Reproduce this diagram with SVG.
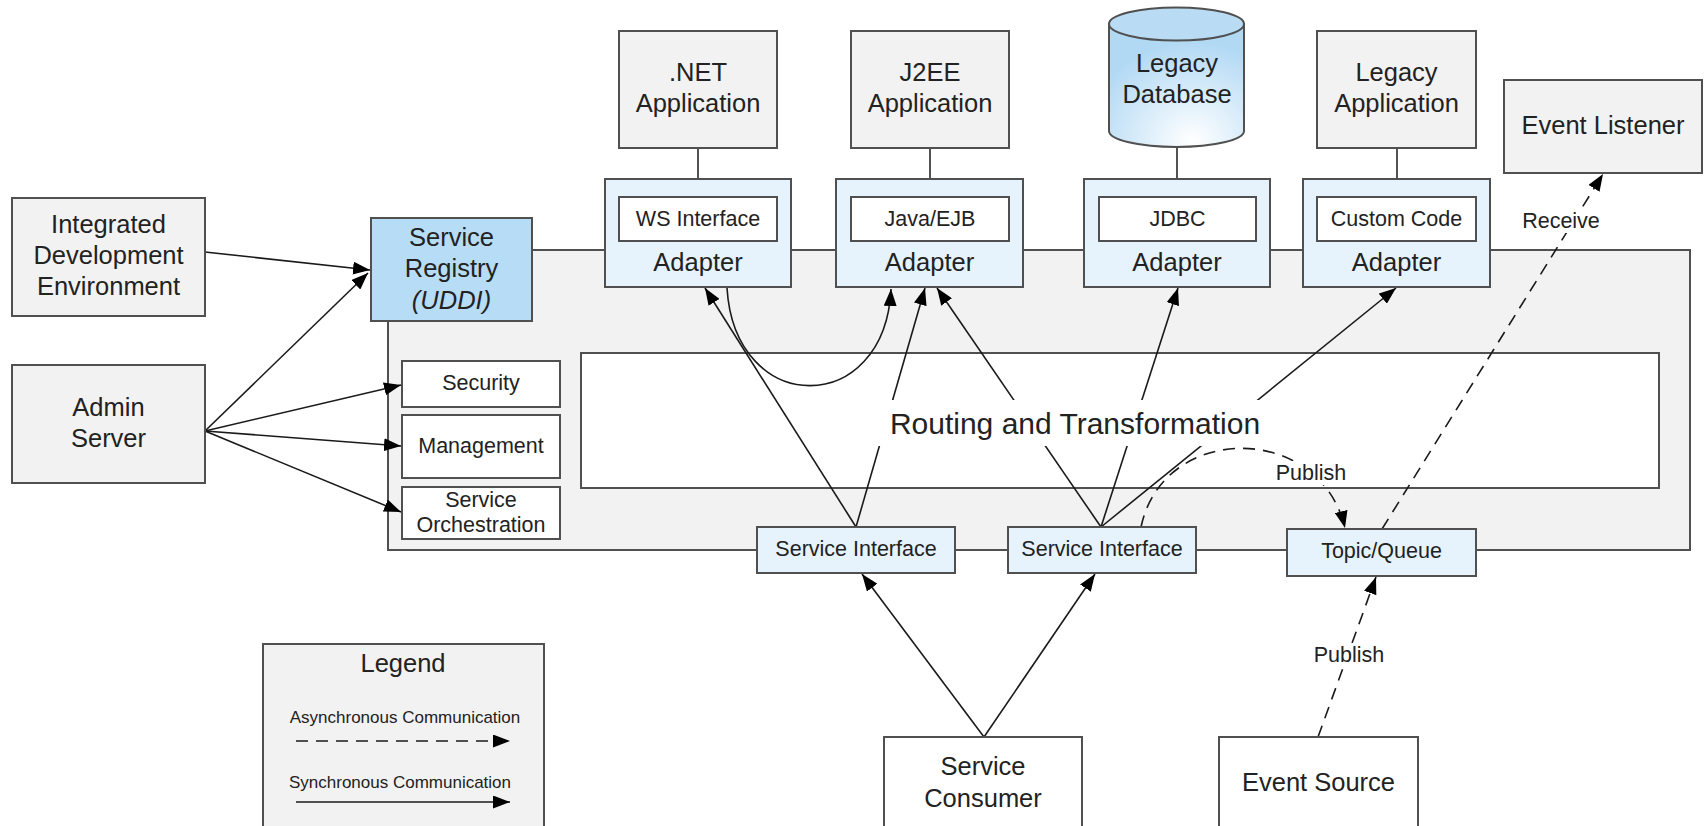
<svg xmlns="http://www.w3.org/2000/svg" width="1705" height="826" viewBox="0 0 1705 826">
<defs>
<style>
text { font-family: "Liberation Sans", Arial, Helvetica, sans-serif; fill: #222; text-anchor: middle; }
.big { font-size: 25.5px; }
.sm { font-size: 21.5px; }
.lg { font-size: 17px; }
.grey { fill: #f2f2f2; stroke: #505050; stroke-width: 2; }
.white { fill: #fff; stroke: #505050; stroke-width: 2; }
.pale { fill: #e6f3fc; stroke: #505050; stroke-width: 2; }
.reg { fill: #b7ddf6; stroke: #505050; stroke-width: 2; }
.tie { fill: none; stroke: #404040; stroke-width: 1.8; }
.link { fill: none; stroke: #1a1a1a; stroke-width: 1.6; marker-end: url(#ah); }
.dash { stroke-dasharray: 12 8; }
.bg { fill: #fff; }
</style>
<marker id="ah" markerUnits="userSpaceOnUse" markerWidth="18" markerHeight="13" refX="17" refY="6.5" orient="auto"><path d="M0,0 L17,6.5 L0,13 Z" fill="#000"/></marker>
<radialGradient id="cyl" cx="0.62" cy="0.95" r="0.8"><stop offset="0" stop-color="#ffffff"/><stop offset="1" stop-color="#b2d9f4"/></radialGradient>
</defs>
<rect x="0" y="0" width="1705" height="826" fill="#fff"/>

<g id="bus">
<rect class="grey" x="388" y="250" width="1302" height="300"/>
</g>
<g id="routing">
<rect class="white" x="581" y="353" width="1078" height="135"/>
</g>
<g id="security"><rect class="white" x="402" y="361" width="158" height="46"/><text class="sm" x="481" y="390">Security</text></g>
<g id="management"><rect class="white" x="402" y="415" width="158" height="63"/><text class="sm" x="481" y="453">Management</text></g>
<g id="orchestration"><rect class="white" x="402" y="487" width="158" height="52"/><text class="sm" x="481" y="507">Service</text><text class="sm" x="481" y="532">Orchestration</text></g>

<g id="ties">
<line class="tie" x1="698" y1="148" x2="698" y2="197"/>
<line class="tie" x1="930" y1="148" x2="930" y2="197"/>
<line class="tie" x1="1177" y1="146" x2="1177" y2="197"/>
<line class="tie" x1="1397" y1="148" x2="1397" y2="197"/>
</g>

<g id="connectors">
<line class="link" x1="205" y1="252" x2="370" y2="270"/>
<line class="link" x1="205" y1="431" x2="368" y2="273"/>
<line class="link" x1="205" y1="431" x2="401" y2="385"/>
<line class="link" x1="205" y1="431" x2="401" y2="446"/>
<line class="link" x1="205" y1="431" x2="401" y2="512"/>
<line class="link" x1="856" y1="527" x2="705" y2="288"/>
<line class="link" x1="856" y1="527" x2="925" y2="288"/>
<path class="link" d="M727,288 C735,418 885,418 891,289"/>
<line class="link" x1="1101" y1="527" x2="937" y2="288"/>
<line class="link" x1="1101" y1="527" x2="1178" y2="288"/>
<line class="link" x1="1101" y1="527" x2="1396" y2="288"/>
<line class="link" x1="984" y1="737" x2="862" y2="574"/>
<line class="link" x1="984" y1="737" x2="1095" y2="574"/>
<path class="link dash" d="M1141,527 C1163,422 1320,422 1345,528"/>
<line class="link dash" x1="1382" y1="529" x2="1603" y2="174"/>
<line class="link dash" x1="1318" y1="737" x2="1376" y2="577"/>
<rect class="bg" x="1274" y="461" width="74" height="24"/>
<text class="sm" x="1311" y="480">Publish</text>
<rect class="bg" x="1521" y="209" width="80" height="24"/>
<text class="sm" x="1561" y="228">Receive</text>
<rect class="bg" x="1311" y="643" width="76" height="24"/>
<text class="sm" x="1349" y="662">Publish</text>
</g>

<g id="routing-label">
<rect class="bg" x="876" y="400" width="392" height="46"/>
<text x="1075" y="434" style="font-size:30px">Routing and Transformation</text>
</g>

<g id="ide"><rect class="grey" x="12" y="198" width="193" height="118"/><text class="big" x="108.5" y="233">Integrated</text><text class="big" x="108.5" y="264">Development</text><text class="big" x="108.5" y="295">Environment</text></g>
<g id="admin"><rect class="grey" x="12" y="365" width="193" height="118"/><text class="big" x="108.5" y="416">Admin</text><text class="big" x="108.5" y="447">Server</text></g>
<g id="registry"><rect class="reg" x="371" y="218" width="161" height="103"/><text class="big" x="451.5" y="246">Service</text><text class="big" x="451.5" y="277">Registry</text><text class="big" x="451.5" y="309" font-style="italic">(UDDI)</text></g>

<g id="net-app"><rect class="grey" x="619" y="31" width="158" height="117"/><text class="big" x="698" y="81">.NET</text><text class="big" x="698" y="112">Application</text></g>
<g id="j2ee-app"><rect class="grey" x="851" y="31" width="158" height="117"/><text class="big" x="930" y="81">J2EE</text><text class="big" x="930" y="112">Application</text></g>
<g id="legacy-db"><path d="M1109,24 L1109,131 A67.5,16 0 0 0 1244,131 L1244,24 Z" fill="url(#cyl)" stroke="#505050" stroke-width="2"/><ellipse cx="1176.5" cy="24" rx="67.5" ry="16.5" fill="#b9dcf4" stroke="#505050" stroke-width="2"/><text class="big" x="1177" y="72">Legacy</text><text class="big" x="1177" y="103">Database</text></g>
<g id="legacy-app"><rect class="grey" x="1317" y="31" width="159" height="117"/><text class="big" x="1396.5" y="81">Legacy</text><text class="big" x="1396.5" y="112">Application</text></g>
<g id="event-listener"><rect class="grey" x="1504" y="80" width="198" height="93"/><text class="big" x="1603" y="134">Event Listener</text></g>

<g id="adapter-ws"><rect class="pale" x="605" y="179" width="186" height="108"/><rect class="white" x="619" y="197" width="158" height="44"/><text class="sm" x="698" y="226">WS Interface</text><text class="big" x="698" y="271">Adapter</text></g>
<g id="adapter-ejb"><rect class="pale" x="836" y="179" width="187" height="108"/><rect class="white" x="851" y="197" width="158" height="44"/><text class="sm" x="930" y="226">Java/EJB</text><text class="big" x="929.5" y="271">Adapter</text></g>
<g id="adapter-jdbc"><rect class="pale" x="1084" y="179" width="186" height="108"/><rect class="white" x="1099" y="197" width="157" height="44"/><text class="sm" x="1177.5" y="226">JDBC</text><text class="big" x="1177" y="271">Adapter</text></g>
<g id="adapter-custom"><rect class="pale" x="1303" y="179" width="187" height="108"/><rect class="white" x="1317" y="197" width="159" height="44"/><text class="sm" x="1396.5" y="226">Custom Code</text><text class="big" x="1396.5" y="271">Adapter</text></g>

<g id="service-interface-1"><rect class="pale" x="757" y="527" width="198" height="46"/><text class="sm" x="856" y="556">Service Interface</text></g>
<g id="service-interface-2"><rect class="pale" x="1008" y="527" width="188" height="46"/><text class="sm" x="1102" y="556">Service Interface</text></g>
<g id="topic-queue"><rect class="pale" x="1287" y="529" width="189" height="47"/><text class="sm" x="1381.5" y="558">Topic/Queue</text></g>

<g id="service-consumer"><rect class="white" x="884" y="737" width="198" height="110"/><text class="big" x="983" y="775">Service</text><text class="big" x="983" y="807">Consumer</text></g>
<g id="event-source"><rect class="white" x="1219" y="737" width="199" height="110"/><text class="big" x="1318.5" y="791">Event Source</text></g>

<g id="legend">
<rect class="grey" x="263" y="644" width="281" height="200"/>
<text class="big" x="403" y="672">Legend</text>
<text class="lg" x="405" y="723">Asynchronous Communication</text>
<line class="link dash" x1="296" y1="741" x2="510" y2="741"/>
<text class="lg" x="400" y="788">Synchronous Communication</text>
<line class="link" x1="296" y1="802" x2="510" y2="802"/>
</g>
</svg>
